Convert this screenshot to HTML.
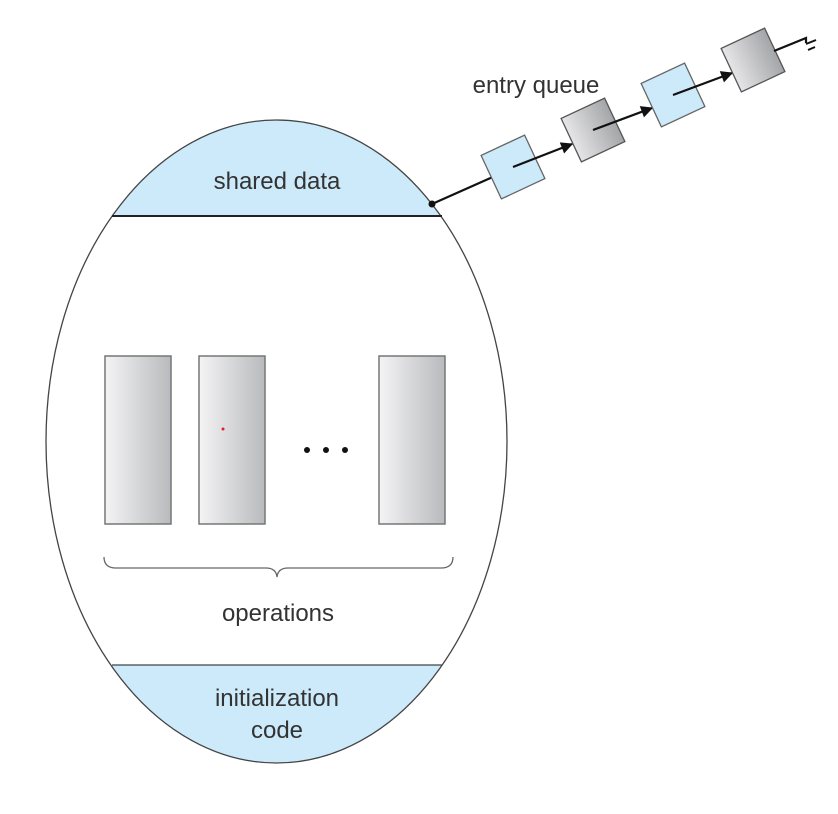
<!DOCTYPE html>
<html><head><meta charset="utf-8"><style>
html,body{margin:0;padding:0;background:#fff;}
svg{display:block;}
text{font-family:"Liberation Sans",Arial,sans-serif;fill:#333;}
</style></head><body>
<svg width="838" height="814" viewBox="0 0 838 814" xmlns="http://www.w3.org/2000/svg">
<defs>
<clipPath id="ec"><ellipse cx="276.5" cy="441.5" rx="230.5" ry="321.5"/></clipPath>
<linearGradient id="g" x1="0" y1="0" x2="1" y2="0">
<stop offset="0" stop-color="#f4f4f5"/><stop offset="1" stop-color="#b9babd"/></linearGradient>
<linearGradient id="g2" x1="0" y1="0" x2="1" y2="0">
<stop offset="0" stop-color="#e6e6e8"/><stop offset="1" stop-color="#a4a5a8"/></linearGradient>
<marker id="ah" viewBox="0 0 10 10" refX="9" refY="5" markerWidth="15" markerHeight="12" orient="auto" markerUnits="userSpaceOnUse">
<path d="M0,0 L10,5 L0,10 z" fill="#111"/></marker>
</defs>
<g clip-path="url(#ec)">
<rect x="0" y="100" width="600" height="116" fill="#cdeafa"/>
<rect x="0" y="665" width="600" height="120" fill="#cdeafa"/>
</g>
<ellipse cx="276.5" cy="441.5" rx="230.5" ry="321.5" fill="none" stroke="#444" stroke-width="1.3"/>
<line x1="112" y1="216" x2="442" y2="216" stroke="#222" stroke-width="2"/>
<line x1="112" y1="665" x2="442" y2="665" stroke="#444" stroke-width="1.3"/>
<text x="277" y="189" font-size="24" text-anchor="middle">shared data</text>
<text x="277" y="706" font-size="24" text-anchor="middle">initialization</text>
<text x="277" y="738" font-size="24" text-anchor="middle">code</text>
<text x="278" y="621" font-size="24" text-anchor="middle">operations</text>
<text x="536" y="93" font-size="24" text-anchor="middle">entry queue</text>
<rect x="105" y="356" width="66" height="168" fill="url(#g)" stroke="#777" stroke-width="1.5"/>
<rect x="199" y="356" width="66" height="168" fill="url(#g)" stroke="#777" stroke-width="1.5"/>
<rect x="379" y="356" width="66" height="168" fill="url(#g)" stroke="#777" stroke-width="1.5"/>
<circle cx="223" cy="429" r="1.5" fill="#d22"/>
<circle cx="307" cy="450" r="3" fill="#111"/>
<circle cx="326" cy="450" r="3" fill="#111"/>
<circle cx="345" cy="450" r="3" fill="#111"/>
<path d="M104,557 Q104,568 116,568 L266,568 Q276,568 277,577 Q278,568 288,568 L441,568 Q453,568 453,557" fill="none" stroke="#666" stroke-width="1.3"/>
<circle cx="432" cy="204" r="3.5" fill="#111"/>
<line x1="432" y1="204" x2="495" y2="176" stroke="#111" stroke-width="2.2"/>
<g transform="translate(513,167) rotate(-25)"><rect x="-24" y="-24" width="48" height="48" fill="#cdeafa" stroke="#666" stroke-width="1.3"/></g>
<line x1="513" y1="167" x2="572" y2="144" stroke="#111" stroke-width="2.2" marker-end="url(#ah)"/>
<g transform="translate(593,130) rotate(-25)"><rect x="-24" y="-24" width="48" height="48" fill="url(#g2)" stroke="#555" stroke-width="1.3"/></g>
<line x1="593" y1="130" x2="652" y2="108" stroke="#111" stroke-width="2.2" marker-end="url(#ah)"/>
<g transform="translate(673,95) rotate(-25)"><rect x="-24" y="-24" width="48" height="48" fill="#cdeafa" stroke="#666" stroke-width="1.3"/></g>
<line x1="673" y1="95" x2="732" y2="73" stroke="#111" stroke-width="2.2" marker-end="url(#ah)"/>
<g transform="translate(753,60) rotate(-25)"><rect x="-24" y="-24" width="48" height="48" fill="url(#g2)" stroke="#555" stroke-width="1.3"/></g>
<polyline points="774,51 806,38 806,43" fill="none" stroke="#111" stroke-width="2.2"/>
<line x1="806" y1="44" x2="816" y2="40" stroke="#111" stroke-width="2"/>
<line x1="808" y1="50" x2="815" y2="47" stroke="#111" stroke-width="2"/>
</svg>
</body></html>
